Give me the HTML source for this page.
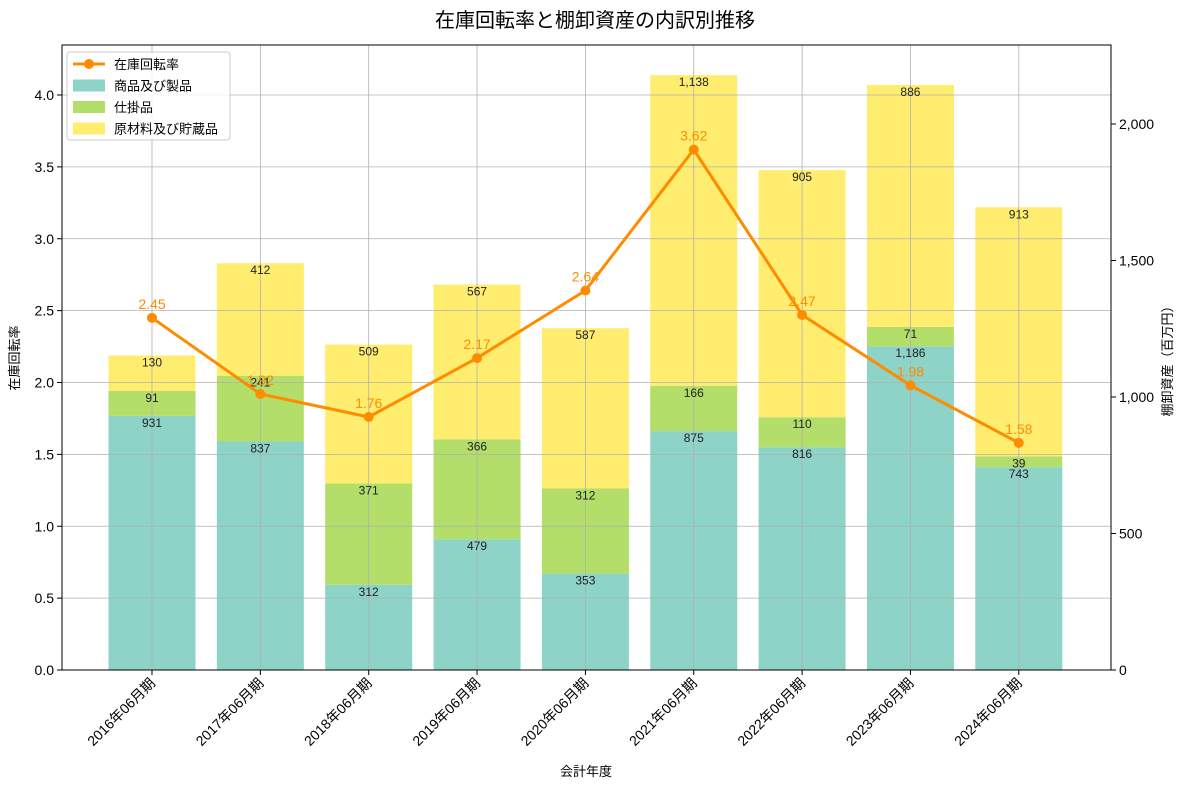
<!DOCTYPE html>
<html><head><meta charset="utf-8">
<style>
body{margin:0;background:#fff;}
svg{display:block;font-family:"Liberation Sans","Noto Sans CJK JP",sans-serif;}
</style></head>
<body>
<svg id="chart" width="1190" height="788"></svg>
<script>
const categories=["2016年06月期","2017年06月期","2018年06月期","2019年06月期","2020年06月期","2021年06月期","2022年06月期","2023年06月期","2024年06月期"];
const products=[931,837,312,479,353,875,816,1186,743];
const wip=[91,241,371,366,312,166,110,71,39];
const raw=[130,412,509,567,587,1138,905,886,913];
const turnover=[2.45,1.92,1.76,2.17,2.64,3.62,2.47,1.98,1.58];
const leftTicks=[0,0.5,1.0,1.5,2.0,2.5,3.0,3.5,4.0];
const rightTicks=[0,500,1000,1500,2000];

const NS="http://www.w3.org/2000/svg";
const svg=document.getElementById('chart');
const L=62,R=1111,T=45,B=670;
const yL=v=>B-v*143.75;
const yR=v=>B-v*0.273;
const xC=i=>152+i*108.35;
const bw=87;
function el(tag,attrs,parent){const e=document.createElementNS(NS,tag);for(const k in attrs)e.setAttribute(k,attrs[k]);(parent||svg).appendChild(e);return e;}
function fmt(n){return n.toLocaleString('en-US');}

// title
let t=el('text',{x:595,y:27,'text-anchor':'middle','font-size':20,fill:'#000'});t.textContent='在庫回転率と棚卸資産の内訳別推移';


// bars
const colors=['#8dd3c7','#b3de69','#ffed6f'];
const series=[products,wip,raw];
const sNames=['products','wip','raw'];
const barG=el('g',{});

categories.forEach((c,i)=>{
  let base=0;
  series.forEach((s,k)=>{
    const v=s[i];
    const r=el('rect',{x:xC(i)-bw/2,y:yR(base+v),width:bw,height:yR(base)-yR(base+v),fill:colors[k]},barG);
    
    base+=v;
  });
});
// grid
const gridG=el('g',{stroke:'#b0b0b0','stroke-width':0.8});

leftTicks.forEach(v=>el('line',{x1:L,x2:R,y1:yL(v),y2:yL(v)},gridG));
categories.forEach((c,i)=>el('line',{x1:xC(i),x2:xC(i),y1:T,y2:B},gridG));
// bar labels
categories.forEach((c,i)=>{
  let base=0;
  series.forEach((s,k)=>{
    const v=s[i];base+=v;
    const tx=el('text',{x:xC(i),y:yR(base)+11,'text-anchor':'middle','font-size':12,fill:'#222'});
    tx.textContent=fmt(v);
    
  });
});
// line
const pts=turnover.map((v,i)=>xC(i)+','+yL(v)).join(' ');
const pl=el('polyline',{points:pts,fill:'none',stroke:'#ff8c00','stroke-width':3});

turnover.forEach((v,i)=>{
  const c=el('circle',{cx:xC(i),cy:yL(v),r:5,fill:'#ff8c00'});
  
  const tx=el('text',{x:xC(i),y:yL(v)-9,'text-anchor':'middle','font-size':14,fill:'#ff8c00'});
  tx.textContent=v.toFixed(2);
  
});
// frame
const fr=el('rect',{x:L,y:T,width:R-L,height:B-T,fill:'none',stroke:'#000','stroke-width':1});

// left ticks
leftTicks.forEach(v=>{
  el('line',{x1:L-5,x2:L,y1:yL(v),y2:yL(v),stroke:'#000'});
  const tx=el('text',{x:L-8,y:yL(v)+5,'text-anchor':'end','font-size':14});tx.textContent=v.toFixed(1);
  
});
rightTicks.forEach(v=>{
  el('line',{x1:R,x2:R+5,y1:yR(v),y2:yR(v),stroke:'#000'});
  const tx=el('text',{x:R+8,y:yR(v)+5,'font-size':14});tx.textContent=fmt(v);
  
});
categories.forEach((c,i)=>{
  el('line',{x1:xC(i),x2:xC(i),y1:B,y2:B+5,stroke:'#000'});
  const tx=el('text',{x:xC(i)+4,y:B+14,'text-anchor':'end','font-size':14,transform:`rotate(-45 ${xC(i)+4} ${B+14})`});
  tx.textContent=c;
  
});
// axis titles
t=el('text',{x:586,y:776,'text-anchor':'middle','font-size':13});t.textContent='会計年度';

t=el('text',{x:19,y:358,'text-anchor':'middle','font-size':13,transform:'rotate(-90 19 358)'});t.textContent='在庫回転率';

t=el('text',{x:1172,y:358,'text-anchor':'middle','font-size':13,transform:'rotate(-90 1172 358)'});t.textContent='棚卸資産（百万円）';

// legend
const lg=el('g',{});

el('rect',{x:67,y:52,width:163,height:88,fill:'#fff','fill-opacity':0.85,stroke:'#ccc',rx:3},lg);
el('line',{x1:73,x2:105,y1:64,y2:64,stroke:'#ff8c00','stroke-width':3},lg);
el('circle',{cx:89,cy:64,r:5,fill:'#ff8c00'},lg);
const ln=['在庫回転率','商品及び製品','仕掛品','原材料及び貯蔵品'];
ln.forEach((n,k)=>{
  const y=64+k*21.5;
  if(k>0) el('rect',{x:73,y:y-6,width:32,height:12,fill:colors[k-1]},lg);
  const tx=el('text',{x:114,y:y+5,'font-size':13},lg);tx.textContent=n;
  
});
</script>
</body></html>
